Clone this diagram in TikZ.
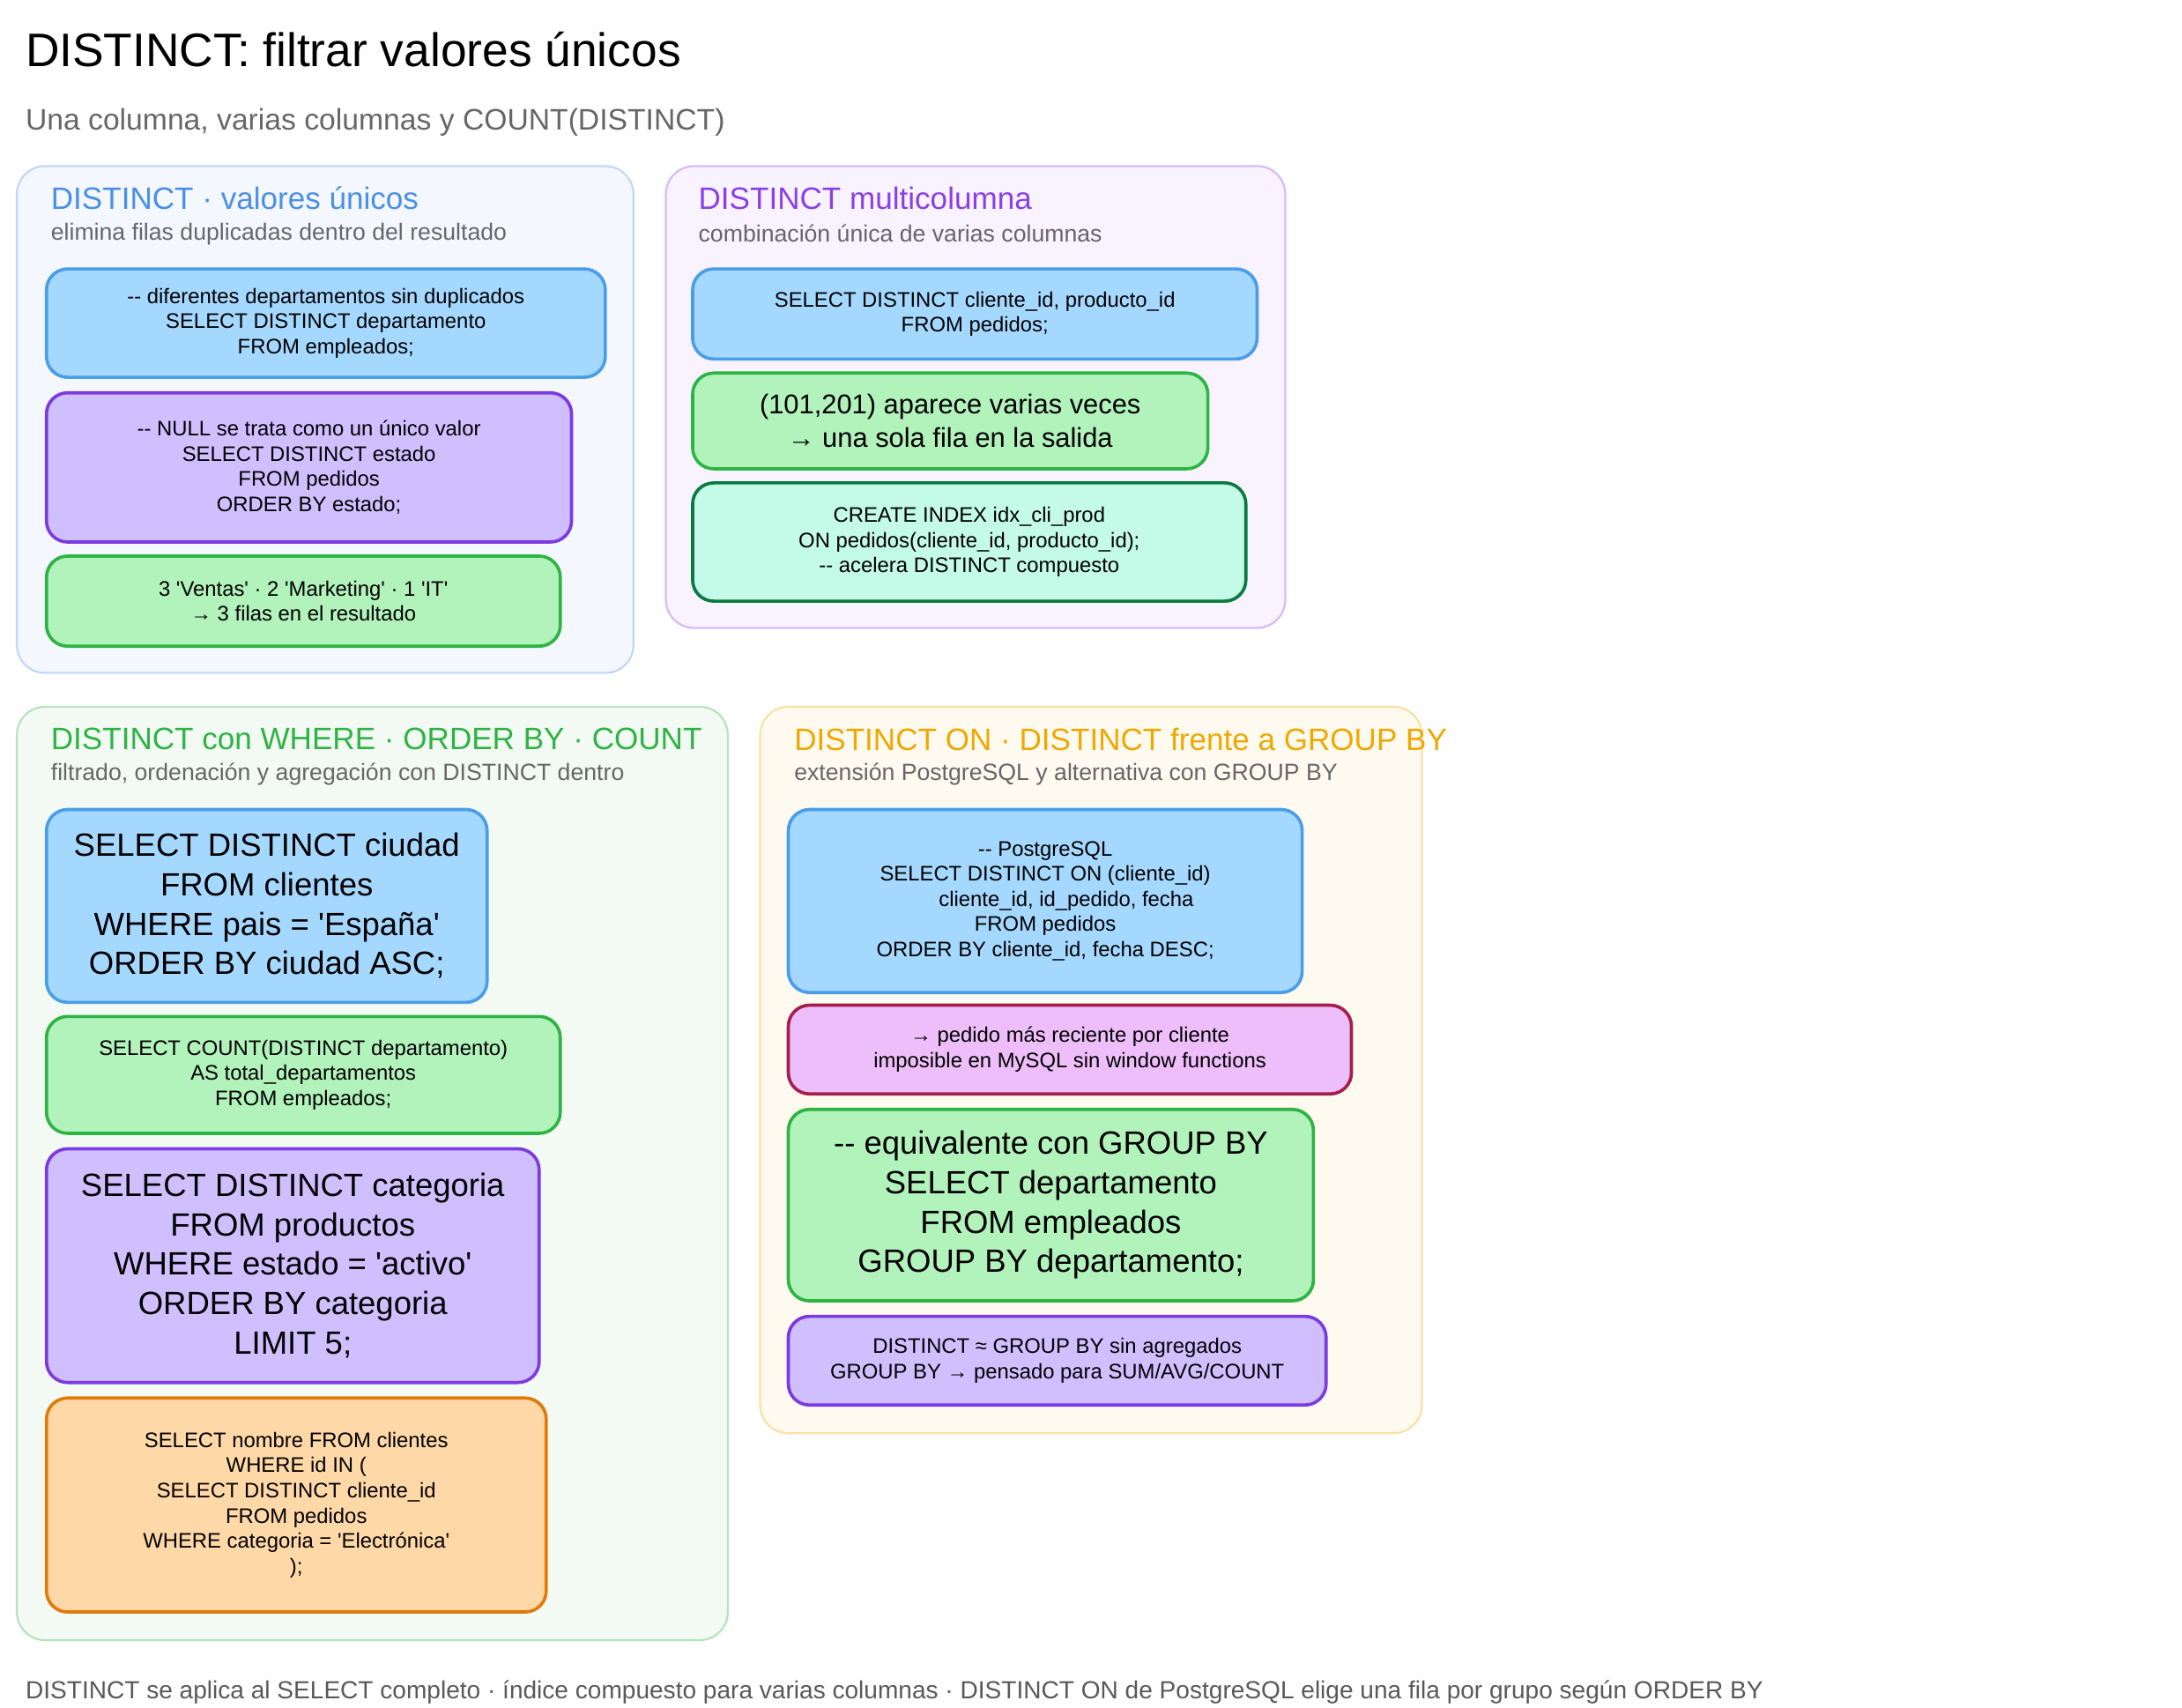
\documentclass[tikz,border=0pt]{standalone}
\usepackage{fontspec}
\setmainfont{Liberation Sans}[Ligatures=TeXOff]
\begin{document}
\begin{tikzpicture}[x=0.02cm,y=-0.02cm,
 panel/.style={draw=#1!35, fill=#1!6, line width=0.8pt, rounded corners=0.4cm},
 bx/.style={rounded corners=0.3cm, line width=1.3pt, align=center, inner sep=0pt, font=\fontsize{8.5}{10.2}\selectfont},
 blu/.style={bx, draw=cBs, fill=cBf},
 grn/.style={bx, draw=cGs, fill=cGf},
 pur/.style={bx, draw=cPs, fill=cPf},
 tea/.style={bx, draw=cTs, fill=cTf},
 ora/.style={bx, draw=cOs, fill=cOf},
 pnk/.style={bx, draw=cKs, fill=cKf},
 big/.style={font=\fontsize{13}{15.9}\selectfont},
 mid/.style={font=\fontsize{11}{13.6}\selectfont},
 ptitle/.style={anchor=west, font=\fontsize{12.5}{14}\selectfont},
 psub/.style={anchor=west, text=black!60, font=\fontsize{9.5}{11}\selectfont}]
\definecolor{cBs}{HTML}{4A9EE8}\definecolor{cBf}{HTML}{A5D8FF}
\definecolor{cGs}{HTML}{2FB344}\definecolor{cGf}{HTML}{B2F2BB}
\definecolor{cPs}{HTML}{7C3AE0}\definecolor{cPf}{HTML}{D0BFFF}
\definecolor{cTs}{HTML}{0C7A40}\definecolor{cTf}{HTML}{C3FAE8}
\definecolor{cOs}{HTML}{E07B0A}\definecolor{cOf}{HTML}{FFD8A8}
\definecolor{cKs}{HTML}{A61E4D}\definecolor{cKf}{HTML}{EEBEFA}
\definecolor{tB}{HTML}{4A8FE8}\definecolor{tP}{HTML}{8B3FE8}
\definecolor{tG}{HTML}{2FB344}\definecolor{tO}{HTML}{F0A800}
\newcommand\mybx[7]{\node[#1, minimum width={(#4-#2)*0.02cm}, minimum height={(#5-#3)*0.02cm}] (#6) at ({(#2+#4)/2},{(#3+#5)/2}) {#7};}
\useasboundingbox (0,0) rectangle (1550,1213);
\node[anchor=west, font=\fontsize{19}{22}\selectfont] (title) at (12,35) {DISTINCT: filtrar valores únicos};
\node[anchor=west, text=black!60, font=\fontsize{12}{14}\selectfont] (sub) at (12,87) {Una columna, varias columnas y COUNT(DISTINCT)};
% panel 1
\draw[panel=tB] (12,118) rectangle (450,478);
\node[ptitle, text=tB] (p1t) at (30,141) {DISTINCT · valores únicos};
\node[psub] (p1s) at (30,166) {elimina filas duplicadas dentro del resultado};
\mybx{blu}{33}{191}{430}{268}{a1}{-- diferentes departamentos sin duplicados\\SELECT DISTINCT departamento\\FROM empleados;}
\mybx{pur}{33}{279}{406}{385}{a2}{-- NULL se trata como un único valor\\SELECT DISTINCT estado\\FROM pedidos\\ORDER BY estado;}
\mybx{grn}{33}{395}{398}{459}{a3}{3 'Ventas' · 2 'Marketing' · 1 'IT'\\→ 3 filas en el resultado}
% panel 2
\draw[panel=tP] (473,118) rectangle (913,446);
\node[ptitle, text=tP] (p2t) at (490,141) {DISTINCT multicolumna};
\node[psub] (p2s) at (490,166) {combinación única de varias columnas};
\mybx{blu}{492}{191}{893}{255}{b1}{SELECT DISTINCT cliente\_id, producto\_id\\FROM pedidos;}
\mybx{grn,mid}{492}{265}{858}{333}{b2}{(101,201) aparece varias veces\\→ una sola fila en la salida}
\mybx{tea}{492}{343}{885}{427}{b3}{CREATE INDEX idx\_cli\_prod\\ON pedidos(cliente\_id, producto\_id);\\-- acelera DISTINCT compuesto}
% panel 3
\draw[panel=tG] (12,502) rectangle (517,1165);
\node[ptitle, text=tG] (p3t) at (30,525) {DISTINCT con WHERE · ORDER BY · COUNT};
\node[psub] (p3s) at (30,550) {filtrado, ordenación y agregación con DISTINCT dentro};
\mybx{blu,big}{33}{575}{346}{712}{c1}{SELECT DISTINCT ciudad\\FROM clientes\\WHERE pais = 'España'\\ORDER BY ciudad ASC;}
\mybx{grn}{33}{722}{398}{805}{c2}{SELECT COUNT(DISTINCT departamento)\\AS total\_departamentos\\FROM empleados;}
\mybx{pur,big}{33}{816}{383}{982}{c3}{SELECT DISTINCT categoria\\FROM productos\\WHERE estado = 'activo'\\ORDER BY categoria\\LIMIT 5;}
\mybx{ora}{33}{993}{388}{1145}{c4}{SELECT nombre FROM clientes\\WHERE id IN (\\SELECT DISTINCT cliente\_id\\FROM pedidos\\WHERE categoria = 'Electrónica'\\);}
% panel 4
\draw[panel=tO] (540,502) rectangle (1010,1018);
\node[ptitle, text=tO] (p4t) at (558,525) {DISTINCT ON · DISTINCT frente a GROUP BY};
\node[psub] (p4s) at (558,550) {extensión PostgreSQL y alternativa con GROUP BY};
\mybx{blu}{560}{575}{925}{705}{d1}{-- PostgreSQL\\SELECT DISTINCT ON (cliente\_id)\\\hspace*{2em}cliente\_id, id\_pedido, fecha\\FROM pedidos\\ORDER BY cliente\_id, fecha DESC;}
\mybx{pnk}{560}{714}{960}{777}{d2}{→ pedido más reciente por cliente\\imposible en MySQL sin window functions}
\mybx{grn,big}{560}{788}{933}{924}{d3}{-- equivalente con GROUP BY\\SELECT departamento\\FROM empleados\\GROUP BY departamento;}
\mybx{pur}{560}{935}{942}{998}{d4}{DISTINCT ≈ GROUP BY sin agregados\\GROUP BY → pensado para SUM/AVG/COUNT}
\node[anchor=west, text=black!65, font=\fontsize{10}{12}\selectfont] (foot) at (12,1202) {DISTINCT se aplica al SELECT completo · índice compuesto para varias columnas · DISTINCT ON de PostgreSQL elige una fila por grupo según ORDER BY};
\end{tikzpicture}
\end{document}
